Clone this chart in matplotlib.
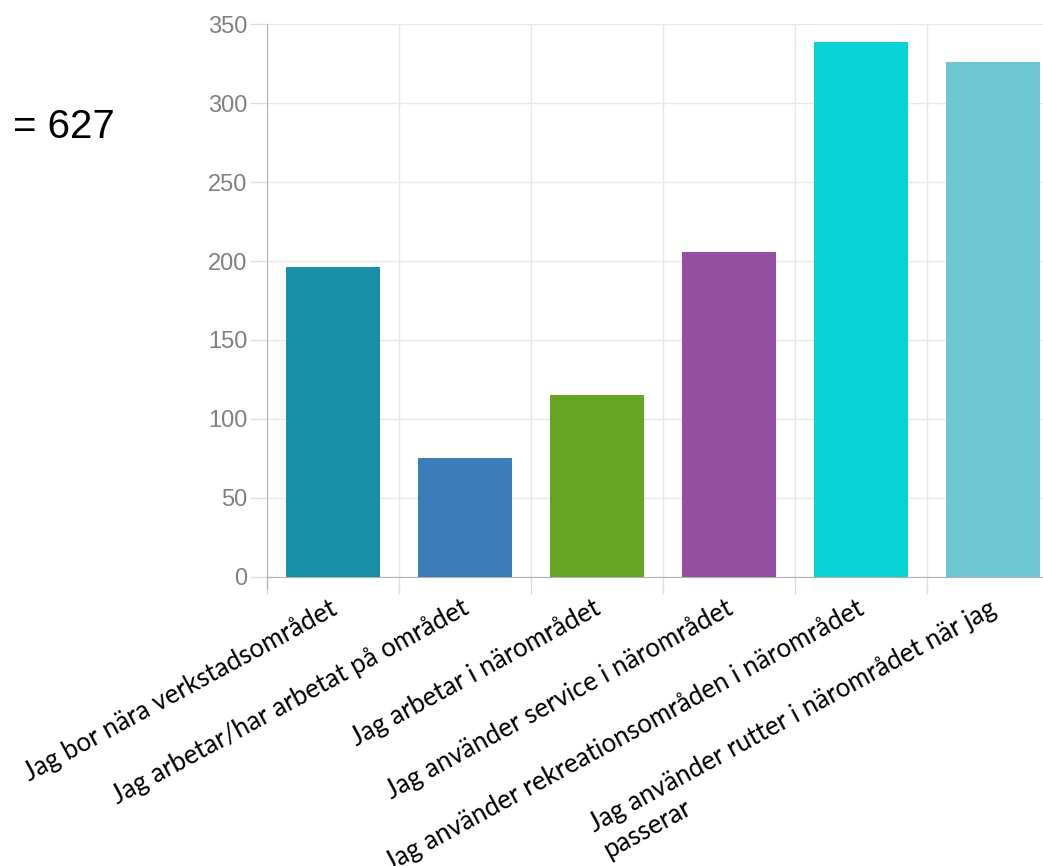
import numpy as np
import matplotlib.pyplot as plt

categories = [
    "Jag bor nära verkstadsområdet",
    "Jag arbetar/har arbetat på området",
    "Jag arbetar i närområdet",
    "Jag använder service i närområdet",
    "Jag använder rekreationsområden i närområdet",
    "Jag använder rutter i närområdet när jag\npasserar",
]
values = [196, 75, 115, 206, 339, 326]
colors = ["#1a90a8", "#3a7db8", "#66a524", "#944fa0", "#07d3d5", "#6ec6d0"]
yticks = [0, 50, 100, 150, 200, 250, 300, 350]

fig = plt.figure(figsize=(10.43, 8.66), dpi=100)
ax = fig.add_axes([0.256, 0.334, 0.759, 0.638])

x = np.arange(len(values))
ax.bar(x, values, width=0.71, color=colors, zorder=3)

ax.set_xlim(-0.5, len(values) - 0.5)
ax.set_ylim(0, 350)
ax.set_yticks(yticks)
ax.set_yticklabels([str(v) for v in yticks], fontsize=17, color="#808080",
                   family="Liberation Sans")
ax.tick_params(axis="y", length=12, color="#dddddd", width=1, pad=2)

# category boundaries: grid + ticks
ax.set_xticks(np.arange(-0.5, len(values)), minor=True)
ax.set_xticks([])
ax.tick_params(axis="x", which="minor", length=12, color="#dddddd", width=1)
ax.grid(True, which="minor", axis="x", color="#e8e8e8", lw=1, zorder=0)
ax.grid(True, which="major", axis="y", color="#e8e8e8", lw=1, zorder=0)

for s in ["top", "right"]:
    ax.spines[s].set_visible(False)
ax.spines["left"].set_color("#b0b0b0")
ax.spines["bottom"].set_color("#b0b0b0")
ax.spines["left"].set_bounds(-8, 350)

# labels hang off the bar centres, rotated like the original export
for xi, lab in zip(x, categories):
    ax.text(xi - 0.03, -12, lab, rotation=28.5, rotation_mode="anchor",
            ha="right", va="top", fontsize=18.7, family="Lato",
            multialignment="left", linespacing=1.25, transform=ax.transData)

fig.text(0.012, 0.853, "= 627", fontsize=29, family="Liberation Sans",
         va="center", ha="left")

fig.savefig("out.png", dpi=100)
